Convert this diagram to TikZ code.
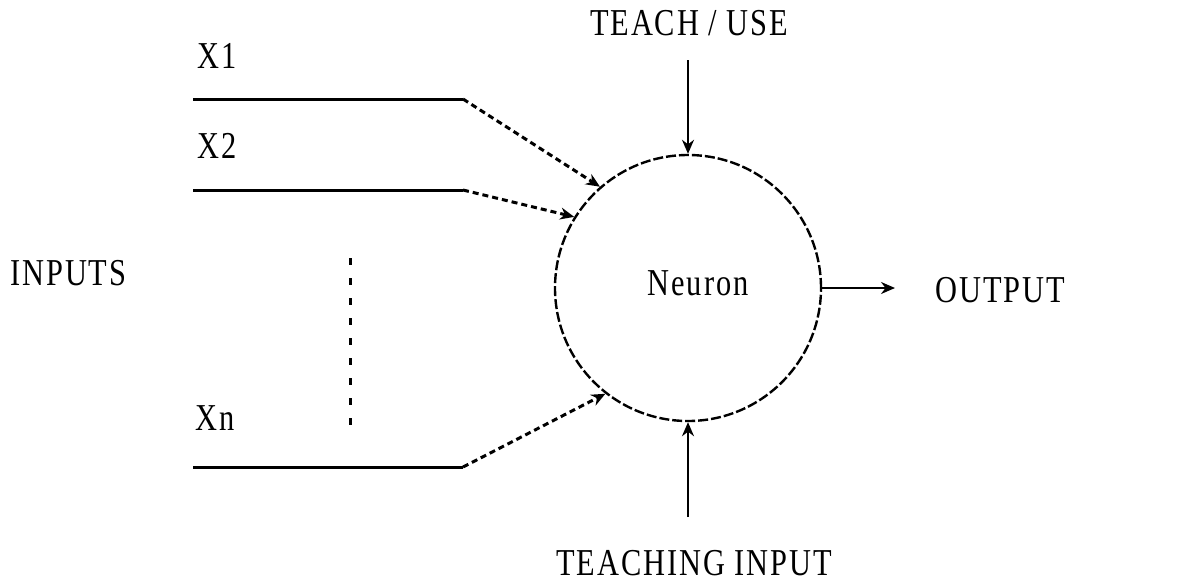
\documentclass[tikz,border=0pt]{standalone}
\usepackage{fontspec}
\setmainfont[FakeStretch=0.8,LetterSpace=5]{Liberation Serif}
\usetikzlibrary{arrows.meta}

\begin{document}
\begin{tikzpicture}[x=0.5pt,y=-0.5pt,
    lbl/.style={inner sep=0pt,font=\fontsize{19}{21}\selectfont},
    wire/.style={line width=1.5pt},
    feed/.style={line width=1.5pt,dash pattern=on 3pt off 2pt,-{Stealth[length=7pt,width=6pt]}},
    ctrl/.style={line width=1pt,-{Stealth[length=7pt,width=6pt]}}]
    \useasboundingbox (0,0) rectangle (1204,584);
    \fill[white] (0,0) rectangle (1204,584);
    \node[draw,circle,line width=1.2pt,dash pattern=on 5pt off 1.5pt,minimum size=133pt,inner sep=0pt] (neuron) at (688,288) {};
    \node[lbl,anchor=base] (neuronlbl) at (698,295) {Neuron};
    \node[lbl,anchor=base west] (x1) at (197,68) {X1};
    \node[lbl,anchor=base west] (x2) at (197,158) {X2};
    \node[lbl,anchor=base west] (xn) at (195,430) {Xn};
    \node[lbl,anchor=base west] (inputs) at (10,285) {INPUTS};
    \node[lbl,anchor=base west] (output) at (935,302) {OUTPUT};
    \node[lbl,anchor=base] (teach) at (689,35) {TEACH / USE};
    \node[lbl,anchor=base] (teaching) at (694,575) {TEACHING INPUT};
    \coordinate (x1a) at (193,99);
    \coordinate (x1b) at (463,99);
    \coordinate (x2a) at (193,190);
    \coordinate (x2b) at (463,190);
    \coordinate (xna) at (193,467);
    \coordinate (xnb) at (463,467);
    \coordinate (dtop) at (350,258);
    \coordinate (dbot) at (350,432);
    \coordinate (teachend) at (688,60);
    \coordinate (teachingend) at (688,517);
    \coordinate (outend) at (895,288);
    \draw[wire] (x1a) -- (x1b);
    \draw[wire] (x2a) -- (x2b);
    \draw[wire] (xna) -- (xnb);
    \draw[feed] (x1b) -- (neuron.131);
    \draw[feed] (x2b) -- (neuron.148);
    \draw[feed] (xnb) -- (neuron.232);
    \draw[line width=1.5pt,dash pattern=on 3.5pt off 6.5pt] (dtop) -- (dbot);
    \draw[ctrl] (teachend) -- (neuron.north);
    \draw[ctrl] (teachingend) -- (neuron.south);
    \draw[ctrl] (neuron.east) -- (outend);
\end{tikzpicture}
\end{document}
